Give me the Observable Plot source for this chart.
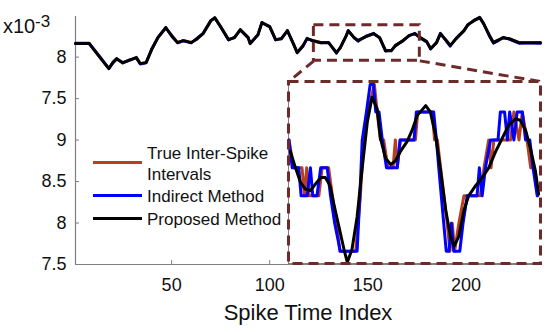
<!DOCTYPE html>
<html><head><meta charset="utf-8">
<script src="https://cdn.jsdelivr.net/npm/d3@7"></script>
<script src="https://cdn.jsdelivr.net/npm/@observablehq/plot@0.6"></script>
<style>
html,body{margin:0;padding:0;background:#fff;}
#wrap{position:relative;width:550px;height:332px;font-family:"Liberation Sans",Arial,sans-serif;color:#111;overflow:hidden;background:#fff}
#wrap svg{position:absolute;}
.nb{position:absolute;left:3px;top:16px;font-size:20px;line-height:20px;white-space:nowrap}
.ne{position:absolute;left:35px;top:12.6px;font-size:17px;line-height:17px;white-space:nowrap}
#legend{position:absolute;left:88px;top:141px;width:197px;height:92px;background:#fff}
.sw{position:absolute;left:5px;width:49px;height:3px}
.lt{position:absolute;left:59px;font-size:17px;line-height:20px;white-space:nowrap}
</style></head><body><div id="wrap"></div>
<script>
// ---- data ----
const mainIndex = [1, 8, 14, 18, 20, 22, 25, 28, 32, 34, 37, 40, 43, 47, 50, 53, 56, 60, 63, 66, 70, 72, 75, 79, 82, 85, 89, 90, 94, 96, 100, 103, 106, 109, 112, 114, 117, 119, 122, 126, 130, 134, 136, 139, 140, 143, 145, 149, 153, 156, 159, 162, 164, 168, 171, 174, 176, 180, 182, 185, 187, 190, 192, 195, 199, 201, 204, 207, 209, 212, 214, 216, 219, 222, 227, 231, 238];
const proposedMain = [8.163, 8.163, 7.982, 7.861, 7.934, 7.982, 7.934, 7.958, 7.994, 7.922,
  7.934, 8.102, 8.235, 8.355, 8.259, 8.175, 8.199, 8.175, 8.223, 8.283,
  8.440, 8.476, 8.367, 8.211, 8.235, 8.331, 8.235, 8.163, 8.271, 8.416,
  8.367, 8.211, 8.223, 8.319, 8.163, 8.054, 8.139, 8.223, 8.199, 8.175,
  8.175, 8.054, 8.114, 8.259, 8.319, 8.235, 8.199, 8.247, 8.283, 8.235,
  8.078, 8.078, 8.139, 8.199, 8.259, 8.283, 8.247, 8.187, 8.102, 8.175,
  8.283, 8.199, 8.139, 8.223, 8.319, 8.392, 8.440, 8.480, 8.404, 8.259,
  8.175, 8.199, 8.235, 8.223, 8.175, 8.175, 8.175];
const indirectMain = [8.170, 8.170, 7.990, 7.865, 7.925, 7.975, 7.930, 7.965, 7.990, 7.915,
  7.930, 8.110, 8.240, 8.360, 8.250, 8.170, 8.195, 8.170, 8.230, 8.290,
  8.445, 8.470, 8.360, 8.205, 8.240, 8.325, 8.230, 8.170, 8.265, 8.420,
  8.360, 8.205, 8.230, 8.315, 8.170, 8.050, 8.130, 8.230, 8.190, 8.170,
  8.180, 8.045, 8.120, 8.255, 8.325, 8.230, 8.190, 8.255, 8.290, 8.230,
  8.070, 8.085, 8.130, 8.205, 8.255, 8.290, 8.240, 8.180, 8.095, 8.180,
  8.290, 8.190, 8.130, 8.230, 8.325, 8.385, 8.445, 8.475, 8.410, 8.250,
  8.165, 8.190, 8.240, 8.215, 8.165, 8.170, 8.165];
const trueMain = [8.160, 8.160, 7.975, 7.858, 7.940, 7.985, 7.925, 7.955, 8.000, 7.925,
  7.940, 8.095, 8.230, 8.350, 8.265, 8.180, 8.205, 8.180, 8.215, 8.280,
  8.435, 8.470, 8.370, 8.215, 8.230, 8.335, 8.240, 8.160, 8.275, 8.410,
  8.370, 8.215, 8.220, 8.325, 8.160, 8.060, 8.145, 8.220, 8.205, 8.180,
  8.170, 8.060, 8.110, 8.265, 8.315, 8.240, 8.205, 8.245, 8.280, 8.240,
  8.085, 8.075, 8.145, 8.195, 8.265, 8.280, 8.250, 8.190, 8.105, 8.170,
  8.280, 8.205, 8.145, 8.220, 8.315, 8.395, 8.435, 8.470, 8.400, 8.265,
  8.180, 8.205, 8.230, 8.225, 8.180, 8.175, 8.180];

const insetPropIndex = [122.9, 124.0, 125.1, 126.1, 127.2, 128.3, 129.4, 130.4, 131.4, 132.2, 133.3, 134.4, 135.1, 136.1, 137.2, 138.3, 139.4, 140.4, 141.5, 142.2, 143.3, 144.4, 145.4, 146.5, 147.9, 149.0, 150.1, 151.9, 152.9, 154.0, 155.1, 156.2, 157.2, 158.0, 159.0, 160.1, 161.1, 162.6, 164.0, 165.4, 166.9, 168.3, 169.7, 171.2, 172.2, 173.3, 174.4, 175.4, 176.1];
const insetProposed = [8.220, 8.181, 8.146, 8.131, 8.127, 8.143, 8.158, 8.158, 8.139, 8.096, 8.042, 7.988, 7.958, 7.988, 8.065, 8.181, 8.290, 8.348, 8.320, 8.251, 8.204, 8.189, 8.197, 8.220, 8.243, 8.270, 8.305, 8.328, 8.313, 8.259, 8.174, 8.081, 8.019, 7.996, 8.019, 8.081, 8.115, 8.139, 8.158, 8.181, 8.220, 8.251, 8.282, 8.297, 8.293, 8.270, 8.224, 8.174, 8.119];
const insetIndIndex = [122.6, 123.3, 124.7, 125.2, 126.5, 127.2, 127.7, 128.6, 129.4, 130.8, 131.5, 132.4, 133.6, 137.2, 137.8, 138.3, 139.2, 140.0, 140.7, 141.2, 141.9, 142.6, 143.5, 145.8, 146.4, 149.4, 149.9, 153.6, 154.2, 154.7, 156.3, 156.9, 157.4, 157.9, 159.2, 159.9, 160.8, 162.9, 163.4, 164.0, 164.7, 165.8, 167.4, 167.9, 168.8, 169.4, 169.9, 170.8, 171.5, 172.6, 173.3, 174.2, 174.9, 175.8];
const insetIndirect = [8.247, 8.181, 8.181, 8.115, 8.115, 8.181, 8.115, 8.115, 8.181, 8.181, 8.115, 8.050, 7.984, 7.984, 8.115, 8.247, 8.313, 8.378, 8.378, 8.313, 8.313, 8.247, 8.181, 8.181, 8.247, 8.247, 8.313, 8.313, 8.247, 8.181, 7.984, 7.984, 8.050, 7.984, 7.984, 8.050, 8.115, 8.115, 8.181, 8.115, 8.181, 8.247, 8.247, 8.313, 8.313, 8.247, 8.313, 8.247, 8.313, 8.313, 8.247, 8.247, 8.181, 8.115];
const insetTrueIndex = [122.6, 123.6, 125.4, 125.9, 126.4, 126.9, 129.0, 129.7, 131.1, 131.9, 132.8, 133.5, 136.9, 137.9, 138.6, 139.5, 140.9, 141.5, 142.2, 142.9, 143.8, 144.9, 145.4, 145.8, 146.5, 149.7, 150.2, 153.3, 153.8, 154.4, 155.1, 156.5, 157.1, 157.6, 158.1, 159.0, 160.1, 163.6, 164.4, 165.4, 165.9, 166.5, 170.1, 170.8, 171.9, 172.6, 173.6, 174.4, 175.1, 175.9];
const insetTrue = [8.247, 8.181, 8.181, 8.115, 8.181, 8.115, 8.115, 8.181, 8.181, 8.115, 8.050, 7.984, 7.984, 8.115, 8.247, 8.313, 8.378, 8.313, 8.247, 8.247, 8.181, 8.181, 8.247, 8.181, 8.247, 8.247, 8.313, 8.313, 8.247, 8.247, 8.181, 8.050, 7.984, 8.050, 7.984, 8.050, 8.115, 8.115, 8.181, 8.247, 8.181, 8.247, 8.247, 8.313, 8.247, 8.313, 8.247, 8.181, 8.181, 8.115];

const xTicks = [50, 100, 150, 200];
const yTicks = [8, 7.5, 7, 6.5, 6, 5.5];
const yTickLabels = ["8", "7.5", "9", "8.5", "8", "7.5"];
const seriesNames = ["True Inter-Spike Intervals", "Indirect Method", "Proposed Method"];
const seriesColors = ["#b8401c", "#0000ff", "#000000"];
const xLabel = "Spike Time Index";
const scaleBase = "x10", scaleExp = "-3";

// ---- layout ----
const xDomain = [1, 238], yDomain = [5.5, 8.49];
const zoomX = [122.5, 176.5], zoomY = [7.955, 8.385];
const insetCornerX = [109.6, 238], insetCornerY = 7.705;
const gray = "#7f7f7f", boxColor = "#6e2a2a", dash = "10,6";
const font = '"Liberation Sans", Arial, sans-serif';

const rows = (xs, ys) => xs.map((x, i) => ({x, y: ys[i]}));

const wrap = document.getElementById("wrap");

const main = Plot.plot({
  width: 550, height: 332,
  marginLeft: 75, marginRight: 10, marginTop: 16, marginBottom: 68,
  x: {domain: xDomain},
  y: {domain: yDomain},
  style: {fontFamily: font, fontSize: "18px", color: "#111", background: "transparent", overflow: "visible"},
  marks: [
    Plot.ruleX([xDomain[0]], {stroke: gray, strokeWidth: 1.2}),
    Plot.ruleY([yDomain[0]], {stroke: gray, strokeWidth: 1.2}),
    Plot.tickX(xTicks, {x: d => d, insetTop: 244, stroke: gray}),
    Plot.tickY(yTicks, {y: d => d, insetRight: 461, stroke: gray}),
    Plot.axisX(xTicks, {tickSize: 0, tickPadding: 14, fontSize: 18}),
    Plot.axisY(yTicks, {tickSize: 0, tickPadding: 9, fontSize: 18, tickFormat: d => yTickLabels[yTicks.indexOf(d)]}),
    Plot.text([xLabel], {frameAnchor: "bottom", dy: 48, fontSize: 22, lineAnchor: "middle"}),
    Plot.line(rows(mainIndex, trueMain), {x: "x", y: "y", stroke: seriesColors[0], strokeWidth: 2.5}),
    Plot.line(rows(mainIndex, indirectMain), {x: "x", y: "y", stroke: seriesColors[1], strokeWidth: 2.5}),
    Plot.line(rows(mainIndex, proposedMain), {x: "x", y: "y", stroke: seriesColors[2], strokeWidth: 3}),
    Plot.rect([{}], {x1: zoomX[0], x2: zoomX[1], y1: zoomY[0], y2: zoomY[1], fill: "none", stroke: boxColor, strokeWidth: 3, strokeDasharray: dash}),
    Plot.link([
      {x1: zoomX[0], y1: zoomY[0], x2: insetCornerX[0], y2: insetCornerY},
      {x1: zoomX[1], y1: zoomY[0], x2: insetCornerX[1], y2: insetCornerY}
    ], {x1: "x1", y1: "y1", x2: "x2", y2: "y2", stroke: boxColor, strokeWidth: 3, strokeDasharray: dash})
  ]
});
main.style.left = "0px"; main.style.top = "0px";
wrap.appendChild(main);

const inset = Plot.plot({
  width: 268, height: 195,
  marginLeft: 8, marginRight: 8, marginTop: 6, marginBottom: 7,
  x: {domain: zoomX, axis: null},
  y: {domain: zoomY, axis: null},
  style: {background: "transparent", overflow: "visible"},
  marks: [
    Plot.frame({fill: "#fff", stroke: null}),
    Plot.ruleX([zoomX[0]], {stroke: gray}),
    Plot.ruleY([zoomY[0]], {stroke: gray}),
    Plot.line(rows(insetTrueIndex, insetTrue), {x: "x", y: "y", stroke: seriesColors[0], strokeWidth: 3}),
    Plot.line(rows(insetIndIndex, insetIndirect), {x: "x", y: "y", stroke: seriesColors[1], strokeWidth: 3}),
    Plot.line(rows(insetPropIndex, insetProposed), {x: "x", y: "y", stroke: seriesColors[2], strokeWidth: 3}),
    Plot.frame({stroke: boxColor, strokeWidth: 3, strokeDasharray: dash})
  ]
});
inset.style.left = "280px"; inset.style.top = "75px";
wrap.appendChild(inset);

// scale note (x10^-3)
const nb = document.createElement("div");
nb.className = "nb"; nb.textContent = scaleBase;
wrap.appendChild(nb);
const ne = document.createElement("div");
ne.className = "ne"; ne.textContent = scaleExp;
wrap.appendChild(ne);

// legend
const legend = document.createElement("div");
legend.id = "legend";
const swY = [21, 54, 77];
const textLines = [["True Inter-Spike", "Intervals"], ["Indirect Method"], ["Proposed Method"]];
const textY = [[3, 24], [46], [69]];
seriesNames.forEach((name, k) => {
  const sw = document.createElement("div");
  sw.className = "sw";
  sw.style.top = (swY[k] - 1.5) + "px";
  sw.style.background = seriesColors[k];
  legend.appendChild(sw);
  textLines[k].forEach((t, j) => {
    const s = document.createElement("div");
    s.className = "lt";
    s.style.top = textY[k][j] + "px";
    s.textContent = t;
    legend.appendChild(s);
  });
});
wrap.appendChild(legend);
</script></body></html>
